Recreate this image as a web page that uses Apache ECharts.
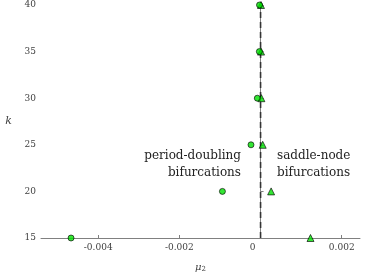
<!DOCTYPE html>
<html><head><meta charset="utf-8">
<script src="https://cdn.jsdelivr.net/npm/echarts@6/dist/echarts.min.js"></script>
<style>html,body{margin:0;padding:0;background:#fff}#c{width:371px;height:278px}</style>
</head><body><div id="c"></div>
<script>
var kValues = [15, 20, 25, 30, 35, 40];
var periodDoubling = [-0.00467, -0.00094, -0.000236, -0.00008, -0.00003, -0.000026];
var saddleNode = [0.00123, 0.00026, 0.000053, 0.00002, 0.000012, 0.00001];
var boundaryMu = 0;
var xTicks = [-0.004, -0.002, 0, 0.002];
var yTicks = [15, 20, 25, 30, 35, 40];

var chart = echarts.init(document.getElementById('c'));
var font = 'DejaVu Serif';
chart.setOption({
  animation: false,
  grid: {left: 41, right: 11, top: 5, bottom: 39.7},
  xAxis: {
    type: 'value', min: -0.00541, max: 0.00245,
    axisLine: {lineStyle: {color: '#808080', width: 1}},
    axisTick: {inside: true, length: 3, customValues: xTicks, lineStyle: {color: '#808080'}},
    axisLabel: {customValues: xTicks, fontFamily: font, fontSize: 9, color: '#404040', margin: 5,
      formatter: function (v) { return v === 0 ? '{z|0}' : String(v); },
      rich: {z: {fontFamily: font, fontSize: 9, color: '#404040', padding: [0, 16, 0, 0]}}},
    splitLine: {show: false},
    name: '{a|μ}{s|2}', nameLocation: 'middle', nameGap: 24,
    nameTextStyle: {rich: {
      a: {fontFamily: font, fontStyle: 'italic', fontSize: 10, color: '#404040'},
      s: {fontFamily: font, fontSize: 7, color: '#404040', verticalAlign: 'bottom', padding: [4, 0, 0, 0]}}}
  },
  yAxis: {
    type: 'value', min: 15, max: 40, interval: 5,
    axisLine: {show: true, lineStyle: {color: '#808080', width: 1}},
    axisTick: {show: true, inside: true, length: 3, lineStyle: {color: '#808080'}},
    axisLabel: {fontFamily: font, fontSize: 9, color: '#404040', margin: 5},
    splitLine: {show: false},
    name: 'k', nameLocation: 'middle', nameGap: 29, nameRotate: 0,
    nameTextStyle: {fontFamily: font, fontStyle: 'italic', fontSize: 11, color: '#404040'}
  },
  series: [
    {
      type: 'line', data: [[boundaryMu, yTicks[0]], [boundaryMu, yTicks[yTicks.length - 1]]],
      symbol: 'none', lineStyle: {color: '#333', width: 1.6, type: [6, 4]}, z: 1
    },
    {
      type: 'scatter', symbol: 'circle', symbolSize: 6,
      data: kValues.map(function (k, i) { return [periodDoubling[i], k]; }),
      itemStyle: {color: '#00e000', borderColor: '#000', borderWidth: 0.8}, z: 3
    },
    {
      type: 'scatter', symbol: 'triangle', symbolSize: 7,
      data: kValues.map(function (k, i) { return [saddleNode[i], k]; }),
      itemStyle: {color: '#00e000', borderColor: '#000', borderWidth: 0.8}, z: 2
    }
  ],
  graphic: [
    {type: 'text', x: 241, y: 147, style: {text: 'period-doubling\nbifurcations', align: 'right', fontFamily: font, fontSize: 12, lineHeight: 17, fill: '#222'}},
    {type: 'text', x: 277, y: 147, style: {text: 'saddle-node\nbifurcations', align: 'left', fontFamily: font, fontSize: 12, lineHeight: 17, fill: '#222'}}
  ]
});
</script></body></html>
